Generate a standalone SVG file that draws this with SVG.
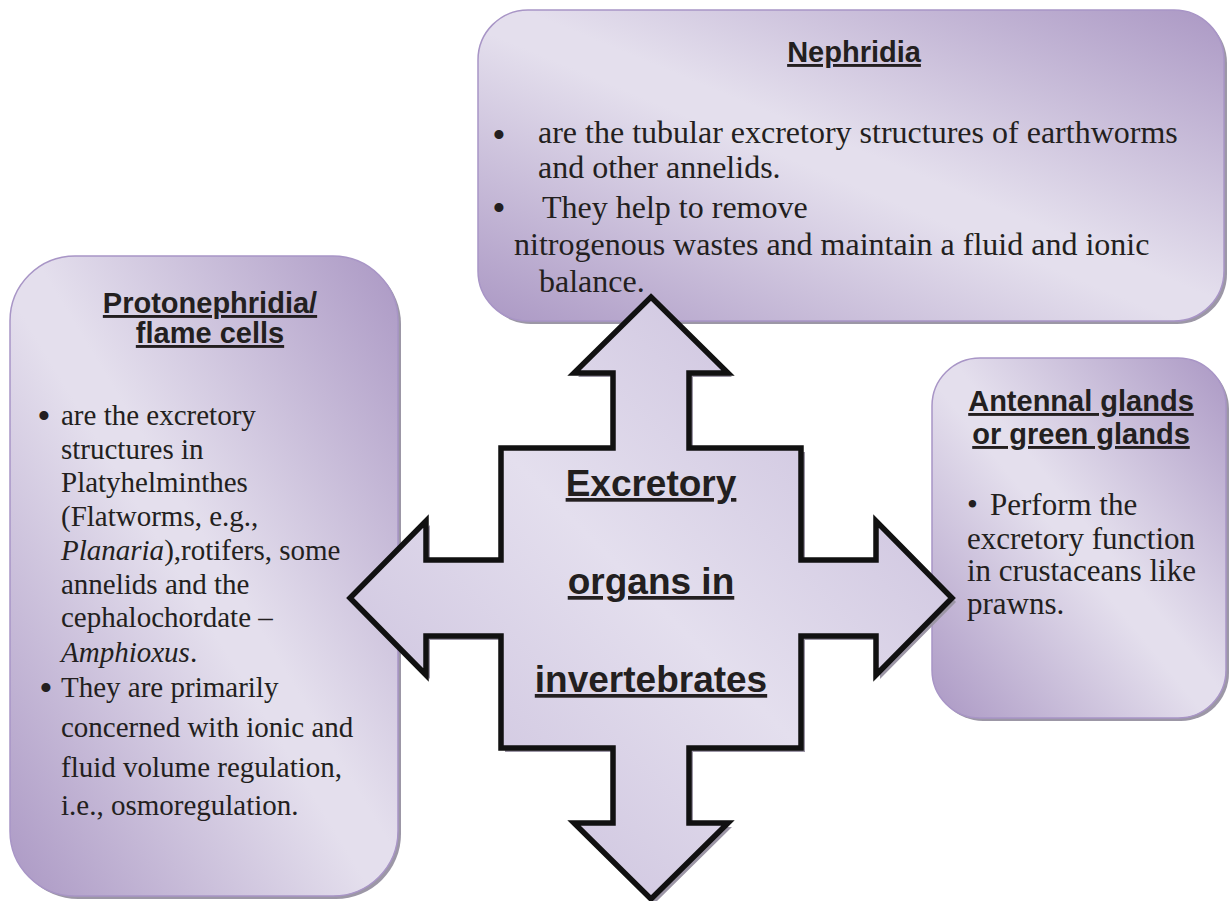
<svg xmlns="http://www.w3.org/2000/svg" width="1230" height="901" viewBox="0 0 1230 901">
<style>
.title{font-family:"Liberation Sans",Arial,sans-serif;font-weight:bold;font-size:29px;fill:#231f20;text-decoration:underline;text-anchor:middle}
.big{font-family:"Liberation Sans",Arial,sans-serif;font-weight:bold;font-size:37px;fill:#231f20;text-decoration:underline;text-anchor:middle}
.body{font-family:"Liberation Serif","Times New Roman",serif;fill:#231f20}
.t32{font-size:32px}
.t29{font-size:29px}
.t31{font-size:31px}
.bul{font-family:"Liberation Serif","Times New Roman",serif;fill:#231f20;font-size:38px;text-anchor:middle}
.box{stroke:#a895c6;stroke-width:1.5}
.shadow{fill:#9c97a6}
</style>
<defs>
<linearGradient id="boxGrad" x1="1" y1="0" x2="0" y2="1">
<stop offset="0" stop-color="#ab98c4"/>
<stop offset="0.47" stop-color="#e4dfed"/>
<stop offset="0.53" stop-color="#e4dfed"/>
<stop offset="1" stop-color="#ab98c4"/>
</linearGradient>
<linearGradient id="arrowGrad" x1="1" y1="0" x2="0" y2="1">
<stop offset="0" stop-color="#c4b8d8"/>
<stop offset="0.5" stop-color="#e4dfee"/>
<stop offset="1" stop-color="#c4b8d8"/>
</linearGradient>
</defs>

<g id="nephridia">
<rect class="shadow" x="481" y="13" width="746" height="311" rx="50"/>
<rect class="box" x="478" y="10" width="746" height="311" rx="50" fill="url(#boxGrad)"/>
<text class="title" x="854" y="62">Nephridia</text>
<text class="bul" x="499" y="148">•</text>
<text class="body t32" x="538" y="143">are the tubular excretory structures of earthworms</text>
<text class="body t32" x="538" y="178">and other annelids.</text>
<text class="bul" x="499" y="221">•</text>
<text class="body t32" x="542" y="218">They help to remove</text>
<text class="body t32" x="514" y="255">nitrogenous wastes and maintain a fluid and ionic</text>
<text class="body t32" x="539" y="292">balance.</text>
</g>

<g id="protonephridia">
<rect class="shadow" x="13" y="259" width="388" height="640" rx="65"/>
<rect class="box" x="10" y="256" width="388" height="640" rx="65" fill="url(#boxGrad)"/>
<text class="title" x="210" y="313">Protonephridia/</text>
<text class="title" x="210" y="343">flame cells</text>
<text class="bul" x="44" y="429">•</text>
<text class="body t29" x="61" y="425">are the excretory</text>
<text class="body t29" x="61" y="458.5">structures in</text>
<text class="body t29" x="61" y="492">Platyhelminthes</text>
<text class="body t29" x="61" y="526">(Flatworms, e.g.,</text>
<text class="body t29" x="61" y="560"><tspan font-style="italic">Planaria</tspan>),rotifers, some</text>
<text class="body t29" x="61" y="593.5">annelids and the</text>
<text class="body t29" x="61" y="627">cephalochordate –</text>
<text class="body t29" x="61" y="662"><tspan font-style="italic">Amphioxus</tspan>.</text>
<text class="bul" x="46" y="701">•</text>
<text class="body t29" x="61" y="697">They are primarily</text>
<text class="body t29" x="61" y="737">concerned with ionic and</text>
<text class="body t29" x="61" y="777">fluid volume regulation,</text>
<text class="body t29" x="61" y="815">i.e., osmoregulation.</text>
</g>

<g id="antennal">
<rect class="shadow" x="935" y="361" width="294" height="360" rx="48"/>
<rect class="box" x="932" y="358" width="294" height="360" rx="48" fill="url(#boxGrad)"/>
<text class="title" x="1081" y="411">Antennal glands</text>
<text class="title" x="1081" y="444">or green glands</text>
<text class="body t31" x="967" y="515">•</text>
<text class="body t31" x="990" y="515">Perform the</text>
<text class="body t31" x="967" y="549">excretory function</text>
<text class="body t31" x="967" y="581">in crustaceans like</text>
<text class="body t31" x="967" y="614">prawns.</text>
</g>

<g id="connectors">
<g id="center-arrow">
<path transform="translate(655 602)" fill="#9c96a6" d="M0,-301 L77,-225 L38,-225 L38,-150 L150,-150 L150,-38 L225,-38 L225,-77 L301,0 L225,77 L225,38 L150,38 L150,150 L38,150 L38,225 L77,225 L0,301 L-77,225 L-38,225 L-38,150 L-150,150 L-150,38 L-225,38 L-225,77 L-301,0 L-225,-77 L-225,-38 L-150,-38 L-150,-150 L-38,-150 L-38,-225 L-77,-225 Z"/>
<path transform="translate(651 598)" fill="url(#arrowGrad)" stroke="#111" stroke-width="5.5" stroke-linejoin="miter" d="M0,-301 L77,-225 L38,-225 L38,-150 L150,-150 L150,-38 L225,-38 L225,-77 L301,0 L225,77 L225,38 L150,38 L150,150 L38,150 L38,225 L77,225 L0,301 L-77,225 L-38,225 L-38,150 L-150,150 L-150,38 L-225,38 L-225,77 L-301,0 L-225,-77 L-225,-38 L-150,-38 L-150,-150 L-38,-150 L-38,-225 L-77,-225 Z"/>
<text class="big" x="651" y="496">Excretory</text>
<text class="big" x="651" y="594">organs in</text>
<text class="big" x="651" y="692">invertebrates</text>
</g>
</g>
</svg>
